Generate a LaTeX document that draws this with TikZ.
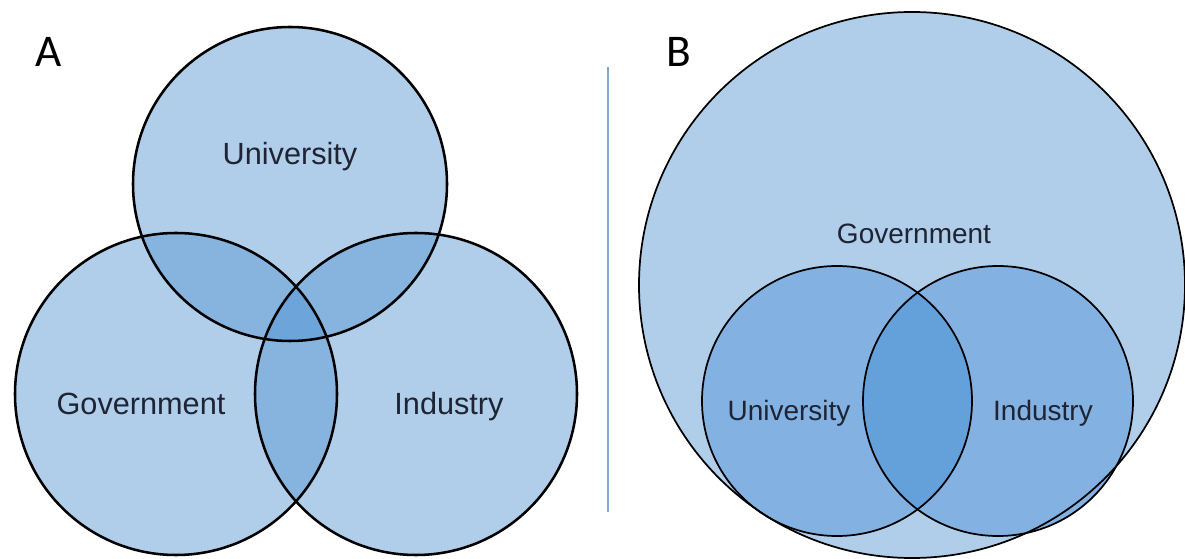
\documentclass[tikz,border=0pt]{standalone}
\usepackage{fontspec}
\setmainfont{Liberation Sans}
\newfontfamily\panelfont{Carlito}
\usepackage{tikz}

\definecolor{setbase}{HTML}{B0CEEA}
\definecolor{setpair}{HTML}{87B3DF}
\definecolor{setcore}{HTML}{6DA4DA}
\definecolor{setinner}{HTML}{83B2E2}
\definecolor{setlens}{HTML}{64A0DA}
\definecolor{labelink}{HTML}{1E2433}
\definecolor{splitline}{HTML}{7EA8CF}

% the three sets of the left panel
\newcommand{\univA}{(290,184) circle[radius=157]}
\newcommand{\govA}{(176,394) circle[radius=161]}
\newcommand{\indA}{(416,394) circle[radius=161]}
% the nested sets of the right panel
\newcommand{\govB}{(912,285) circle[radius=273]}
\newcommand{\univB}{(837,401) circle[radius=135]}
\newcommand{\indB}{(998,401) circle[radius=135]}

\begin{document}
\begin{tikzpicture}[x=0.75pt,y=-0.75pt,
    setline/.style={draw=black,line width=1.9pt},
    thinline/.style={draw=black,line width=1.3pt},
    setlabel/.style={text=labelink,font=\fontsize{23}{26}\selectfont,inner sep=0pt,anchor=base},
    smalllabel/.style={text=labelink,font=\fontsize{21}{24}\selectfont,inner sep=0pt,anchor=base},
    panel/.style={text=black,font=\panelfont\fontsize{34}{38}\selectfont,inner sep=0pt}]
            \useasboundingbox (0,0) rectangle (1185,559);

            % panel A
            \fill[setbase] \univA;
            \fill[setbase] \govA;
            \fill[setbase] \indA;
            \begin{scope}
                \clip \univA;
                \fill[setpair] \govA;
                \fill[setpair] \indA;
            \end{scope}
            \begin{scope}
                \clip \govA;
                \fill[setpair] \indA;
            \end{scope}
            \begin{scope}
                \clip \univA;
                \clip \govA;
                \fill[setcore] \indA;
            \end{scope}
            \draw[setline] \univA;
            \draw[setline] \govA;
            \draw[setline] \indA;

            \node[panel] (panelA) at (49,52) {A};
            \node[setlabel] (univLabelA) at (290,165) {University};
            \node[setlabel] (govLabelA) at (141,415) {Government};
            \node[setlabel] (indLabelA) at (449,415) {Industry};

            % divider
            \coordinate (splitTop) at (608,67);
            \coordinate (splitBottom) at (608,512);
            \draw[splitline,line width=1.5pt] (splitTop) -- (splitBottom);

            % panel B
            \fill[setbase] \govB;
            \fill[setinner] \univB;
            \fill[setinner] \indB;
            \begin{scope}
                \clip \univB;
                \fill[setlens] \indB;
            \end{scope}
            \draw[thinline] \govB;
            \draw[thinline] \univB;
            \draw[thinline] \indB;

            \node[panel] (panelB) at (679,52) {B};
            \node[smalllabel] (govLabelB) at (914,244) {Government};
            \node[smalllabel] (univLabelB) at (789,421) {University};
            \node[smalllabel] (indLabelB) at (1043,421) {Industry};
\end{tikzpicture}
\end{document}
